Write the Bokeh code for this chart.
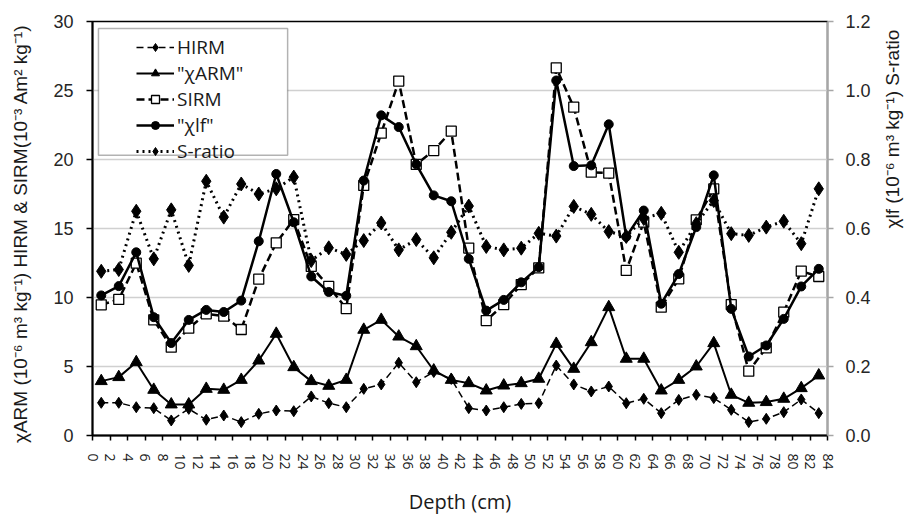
import math
from bokeh.plotting import figure
from bokeh.models import (Range1d, LinearAxis, FixedTicker, PrintfTickFormatter,
                          Legend, LegendItem, BoxAnnotation)
from bokeh.embed import file_html
from bokeh.resources import INLINE

# ---------------- data ----------------
depth = [1, 3, 5, 7, 9, 11, 13, 15, 17, 19, 21, 23, 25, 27, 29, 31, 33, 35, 37, 39, 41,
         43, 45, 47, 49, 51, 53, 55, 57, 59, 61, 63, 65, 67, 69, 71, 73, 75, 77, 79, 81, 83]

hirm = [2.37, 2.37, 2.05, 1.98, 1.09, 1.93, 1.14, 1.45, 0.97, 1.57, 1.81, 1.76, 2.83, 2.34,
        2.05, 3.38, 3.70, 5.27, 3.86, 4.60, 4.10, 1.98, 1.81, 2.05, 2.29, 2.34, 5.07, 3.70,
        3.19, 3.55, 2.34, 2.66, 1.62, 2.58, 2.95, 2.71, 1.86, 0.97, 1.21, 1.69, 2.61, 1.62]

chi_arm = [3.94, 4.23, 5.31, 3.31, 2.25, 2.25, 3.38, 3.31, 4.03, 5.43, 7.37, 4.95, 3.94, 3.60,
           4.03, 7.66, 8.38, 7.17, 6.47, 4.71, 4.03, 3.79, 3.26, 3.62, 3.79, 4.11, 6.64, 4.83,
           6.76, 9.30, 5.56, 5.56, 3.26, 4.03, 5.00, 6.69, 2.95, 2.37, 2.42, 2.66, 3.43, 4.35]

sirm = [9.47, 9.86, 12.49, 8.38, 6.40, 7.78, 8.82, 8.65, 7.68, 11.33, 13.96, 15.65, 12.25, 10.80,
        9.20, 18.12, 21.91, 25.68, 19.64, 20.65, 22.05, 13.58, 8.33, 9.49, 10.94, 12.15, 26.64,
        23.79, 19.08, 19.01, 11.96, 15.46, 9.30, 11.35, 15.63, 17.87, 9.49, 4.66, 6.35, 8.94,
        11.91, 11.52]

chi_lf = [0.406, 0.433, 0.531, 0.343, 0.268, 0.335, 0.364, 0.358, 0.391, 0.563, 0.758, 0.618,
          0.461, 0.416, 0.405, 0.739, 0.928, 0.894, 0.786, 0.696, 0.679, 0.512, 0.362, 0.393,
          0.444, 0.488, 1.029, 0.781, 0.783, 0.902, 0.576, 0.652, 0.382, 0.468, 0.604, 0.754,
          0.367, 0.229, 0.261, 0.338, 0.432, 0.483]

s_ratio = [0.476, 0.481, 0.650, 0.512, 0.654, 0.493, 0.737, 0.633, 0.729, 0.700, 0.715, 0.749,
           0.507, 0.544, 0.525, 0.565, 0.616, 0.538, 0.568, 0.515, 0.589, 0.665, 0.548, 0.538,
           0.543, 0.586, 0.578, 0.664, 0.641, 0.591, 0.577, 0.629, 0.644, 0.531, 0.614, 0.681,
           0.585, 0.580, 0.604, 0.621, 0.556, 0.715]

x_ticks = [0, 2, 4, 6, 8, 10, 12, 14, 16, 18, 20, 22, 24, 26, 28, 30, 32, 34, 36, 38, 40, 42,
           44, 46, 48, 50, 52, 54, 56, 58, 60, 62, 64, 66, 68, 70, 72, 74, 76, 78, 80, 82, 84]
left_ticks = [0, 5, 10, 15, 20, 25, 30]
right_ticks = [0.0, 0.2, 0.4, 0.6, 0.8, 1.0, 1.2]

legend_labels = ["HIRM", '"χARM"', "SIRM", '"χlf"', "S-ratio"]
left_title = "χARM (10⁻⁶ m³ kg⁻¹)   HIRM & SIRM(10⁻³ Am² kg⁻¹)"
right_title = "χlf (10⁻⁶ m³ kg⁻¹)     S-ratio"
x_title = "Depth (cm)"

# ---------------- figure ----------------
p = figure(width=916, height=518, output_backend="svg", toolbar_location=None,
           x_range=Range1d(x_ticks[0], x_ticks[-1]),
           y_range=Range1d(left_ticks[0], left_ticks[-1]),
           min_border_left=92, min_border_right=86, min_border_top=21, min_border_bottom=83)
p.extra_y_ranges = {"right": Range1d(right_ticks[0], right_ticks[-1])}
p.background_fill_color = "white"
p.border_fill_color = "white"
p.outline_line_color = "black"
p.outline_line_width = 1.5

p.xgrid.visible = False
p.ygrid.ticker = FixedTicker(ticks=left_ticks)
p.ygrid.grid_line_color = "#d0d0d0"
p.ygrid.grid_line_width = 1.5

tick_font = "Liberation Sans"

# left axis
ya = p.yaxis[0]
ya.ticker = FixedTicker(ticks=left_ticks)
ya.axis_line_width = 2
ya.axis_line_color = "black"
ya.major_tick_line_color = "black"
ya.major_tick_line_width = 1.5
ya.major_tick_out = 6
ya.major_tick_in = 0
ya.minor_tick_line_color = None
ya.major_label_standoff = 13
ya.major_label_text_font = tick_font
ya.major_label_text_font_size = "18px"
ya.major_label_text_color = "#262626"
ya.axis_label = left_title
ya.axis_label_text_font = tick_font
ya.axis_label_text_font_size = "19px"
ya.axis_label_text_font_style = "normal"
ya.axis_label_text_color = "#1a1a1a"
ya.axis_label_standoff = 19

# bottom axis
xa = p.xaxis[0]
xa.ticker = FixedTicker(ticks=x_ticks)
xa.axis_line_width = 2
xa.axis_line_color = "black"
xa.major_tick_line_color = "black"
xa.major_tick_line_width = 1.5
xa.major_tick_out = 5
xa.major_tick_in = 0
xa.minor_tick_line_color = None
xa.major_label_orientation = "vertical"
xa.major_label_standoff = 13
xa.major_label_text_font = "Open Sans"
xa.major_label_text_font_size = "14px"
xa.major_label_text_color = "#1a1a1a"
xa.axis_label = x_title
xa.axis_label_text_font = "Open Sans"
xa.axis_label_text_font_size = "20px"
xa.axis_label_text_font_style = "normal"
xa.axis_label_text_color = "#1a1a1a"
xa.axis_label_standoff = 15

# right axis
ra = LinearAxis(y_range_name="right", ticker=FixedTicker(ticks=right_ticks),
                formatter=PrintfTickFormatter(format="%.1f"))
ra.axis_line_color = "#a6a6a6"
ra.axis_line_width = 1.5
ra.major_tick_line_color = "#a6a6a6"
ra.major_tick_line_width = 1.5
ra.major_tick_out = 6
ra.major_tick_in = 0
ra.minor_tick_line_color = None
ra.major_label_standoff = 12
ra.major_label_text_font = tick_font
ra.major_label_text_font_size = "18px"
ra.major_label_text_color = "#262626"
ra.axis_label = right_title
ra.axis_label_text_font = tick_font
ra.axis_label_text_font_size = "19px"
ra.axis_label_text_font_style = "normal"
ra.axis_label_text_color = "#1a1a1a"
ra.axis_label_standoff = 19
if "axis_label_orientation" in ra.properties():
    ra.axis_label_orientation = math.pi / 2
p.add_layout(ra, "right")

# ---------------- series ----------------
k = "black"
hl = p.line(depth, hirm, line_color=k, line_width=1.5, line_dash="7 4")
hm = p.scatter(depth, hirm, marker="diamond", size=11, color=k)

al = p.line(depth, chi_arm, line_color=k, line_width=2)
am = p.scatter(depth, chi_arm, marker="triangle", size=12, color=k)

sl = p.line(depth, sirm, line_color=k, line_width=2.5, line_dash="8 4")
sm = p.scatter(depth, sirm, marker="square", size=10, fill_color="white", line_color=k,
               line_width=1.3)

ll = p.line(depth, chi_lf, y_range_name="right", line_color=k, line_width=2.5)
lm = p.scatter(depth, chi_lf, y_range_name="right", marker="circle", size=9, color=k)

rl = p.line(depth, s_ratio, y_range_name="right", line_color=k, line_width=3, line_dash="2 4")
rm = p.scatter(depth, s_ratio, y_range_name="right", marker="diamond", size=14, color=k)

# ---------------- legend ----------------
box = BoxAnnotation(left=0.68, right=22.3, bottom=20.3, top=29.5,
                    fill_color="white", fill_alpha=1.0, line_color="black", line_width=1.5)
p.add_layout(box)

legend = Legend(items=[LegendItem(label=legend_labels[0], renderers=[hl, hm]),
                       LegendItem(label=legend_labels[1], renderers=[al, am]),
                       LegendItem(label=legend_labels[2], renderers=[sl, sm]),
                       LegendItem(label=legend_labels[3], renderers=[ll, lm]),
                       LegendItem(label=legend_labels[4], renderers=[rl, rm])],
                location=(44, 271), padding=0, spacing=0, margin=0,
                glyph_width=38, glyph_height=20, label_standoff=3,
                border_line_alpha=0, background_fill_alpha=0,
                label_text_font="Open Sans", label_text_font_size="19px",
                label_text_color="#1a1a1a")
p.add_layout(legend)

open("out.html", "w").write(file_html(p, INLINE))
